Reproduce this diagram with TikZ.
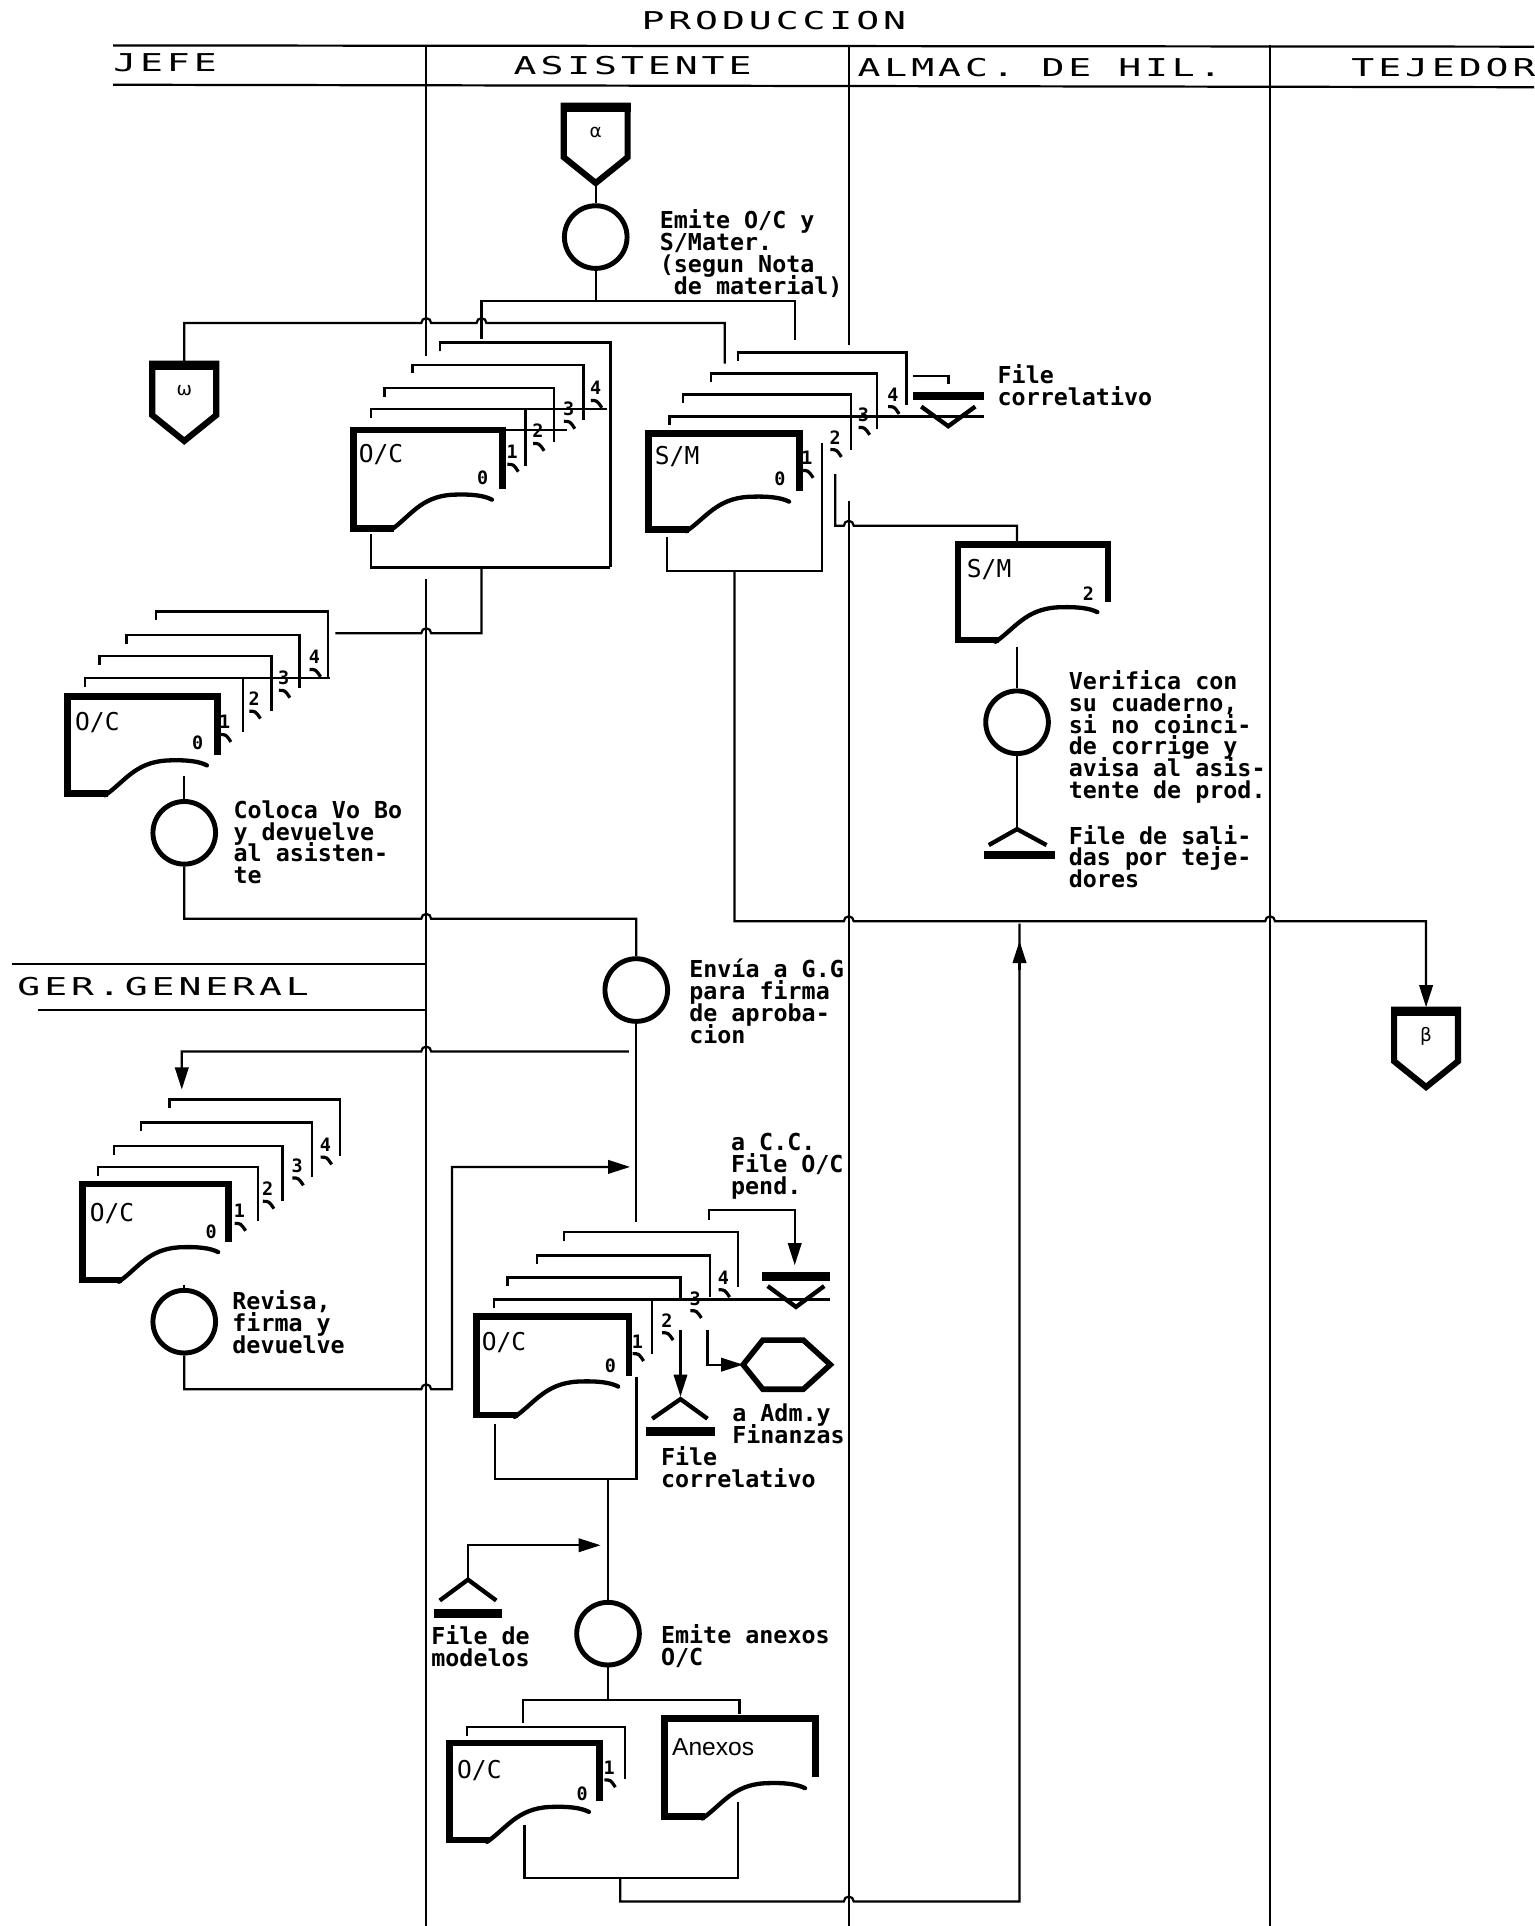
\documentclass[tikz,border=0pt]{standalone}
\usepackage{fontspec}
\usetikzlibrary{arrows.meta}
\newfontfamily\bodyf{DejaVu Sans Mono}
\newfontfamily\hdrf[FakeStretch=1.55,LetterSpace=16]{DejaVu Sans Mono}
\newfontfamily\grkf{DejaVu Sans}
\newfontfamily\anxf{Liberation Sans}
\newcommand\tightlines{\lineskiplimit=-40pt\relax\lineskip=0pt\relax}
\tikzset{
  ln/.style={line width=1.8},
  frm/.style={line width=2},
  circ/.style={circle,draw,line width=4,minimum size=51,inner sep=0},
  txt/.style={font=\bodyf\bfseries\fontsize{19}{17.8}\selectfont\tightlines,align=left,inner sep=0,anchor=north west},
  dlab/.style={font=\bodyf\fontsize{20}{20}\selectfont,inner sep=0,anchor=west},
  dig/.style={font=\bodyf\bfseries\fontsize{15}{15}\selectfont,inner sep=0},
  hdr/.style={font=\hdrf\fontsize{20}{20}\selectfont,inner sep=0},
  arr/.style={-{Triangle[width=11,length=18]}},
}
\newcommand\docsym[4]{%
  \draw[line width=5.5,line join=miter] ({#1+#3},{#2+0.6*#4}) -- ({#1+#3},#2) -- (#1,#2) -- (#1,{#2+#4}) -- ({#1+0.27*#3},{#2+#4});
  \draw[line width=3.5,line cap=round] ({#1+0.25*#3},{#2+#4+1.5}) .. controls ({#1+0.38*#3},{#2+0.88*#4}) and ({#1+0.45*#3},{#2+0.68*#4}) .. ({#1+0.66*#3},{#2+0.66*#4}) .. controls ({#1+0.8*#3},{#2+0.65*#4}) and ({#1+0.88*#3},{#2+0.67*#4}) .. ({#1+0.93*#3},{#2+0.71*#4});
}
\newcommand\cframe[4]{\draw[frm] (#1,{#2+7}) -- (#1,#2) -- (#3,#2) -- (#3,#4);}
\newcommand\clabel[3]{\node[dig] at (#1,#2) {#3};
  \draw[line width=2.6] ({#1-4},{#2+10}) .. controls ({#1+1},{#2+10}) .. ({#1+5},{#2+16});}
\newcommand\pent[3]{%
  \draw[line width=5,line join=miter,fill=white] ({#1-26},#2) -- ({#1+26},#2) -- ({#1+26},{#2+42}) -- (#1,{#2+63}) -- ({#1-26},{#2+42}) -- cycle;
  \fill ({#1-28.5},{#2-2.5}) rectangle ({#1+28.5},{#2+5});
  \node[font=\grkf\fontsize{15}{15}\selectfont,inner sep=0] at (#1,{#2+22}) {#3};}
\begin{document}
\begin{tikzpicture}[x=1pt,y=-1pt]
\useasboundingbox (0,0) rectangle (1249,1568);
\clip (0,0) rectangle (1249,1568);
\fill[white] (0,0) rectangle (1249,1568);

% ---------- header ----------
\node[hdr] (hP) at (630,17) {PRODUCCION};
\draw[ln] (92,37) -- (1249,38);
\draw[ln] (92,69) -- (1249,71);
\node[hdr,anchor=west] (hJ) at (92,51) {JEFE};
\node[hdr] (hA) at (515,53) {ASISTENTE};
\node[hdr,anchor=west] (hH) at (698,55) {ALMAC. DE HIL.};
\node[hdr,anchor=west] (hT) at (1100,55) {TEJEDOR};

% lane lines
\draw[ln] (347,37) -- (347,290); \draw[ln] (347,471) -- (347,1568);
\draw[ln] (691,37) -- (691,281); \draw[ln] (691,408) -- (691,1568);
\draw[ln] (1034,37) -- (1034,1568);

% GER. GENERAL lane
\draw[ln] (10,785) -- (347,785);
\draw[ln] (31,822) -- (347,822);
\node[hdr,anchor=west] (hG) at (14,803) {GER.GENERAL};

% ---------- start ----------
\pent{485}{86}{α}
\coordinate (aP) at (485,149);
\node[circ] (c1) at (485,193) {};
\draw[ln] (aP) -- (c1.north);
\node[txt] (t1) at (537,170.5) {Emite O/C y\\S/Mater.\\(segun Nota\\\phantom{(}de material)};
\draw[ln] (c1.south) -- (485,245);
\draw[ln] (392,276) -- (392,245) -- (647,245) -- (647,277);
\draw[ln] (150,296) -- (150,263) -- (343,263) arc[start angle=180,end angle=360,radius=4] -- (388,263) arc[start angle=180,end angle=360,radius=4] -- (590,263) -- (590,296);
\pent{150}{296}{ω}

% ---------- stack A (O/C) ----------
\docsym{288}{350}{121}{80}
\node[dlab] at (292,370) {O/C};
\node[dig] at (393,389) {0};
\cframe{302}{333}{428}{379} \draw[frm] (428,333) -- (494,333);
\cframe{313}{316}{451}{360}
\cframe{336}{297}{475}{342}
\cframe{358}{279}{497}{462}
\draw[frm] (497,462) -- (302,462) -- (302,435);
\draw[frm] (409,350) -- (462,350);
\clabel{417}{368}{1}\clabel{438}{351}{2}\clabel{463}{333}{3}\clabel{485}{316}{4}
\draw[ln] (392,462) -- (392,515.5) -- (351,515.5) arc[start angle=0,end angle=-180,radius=4] -- (273,515.5);

% ---------- stack S (S/M) ----------
\docsym{528}{353}{123}{78}
\node[dlab] at (533,372) {S/M};
\node[dig] at (635,390) {0};
\draw[frm] (545,346) -- (545,339) -- (801,339);
\draw[frm] (669,361) -- (669,465) -- (543,465) -- (543,437);
\cframe{556}{321}{693}{366}
\cframe{579}{304}{714}{349}
\cframe{601}{287}{738}{330}
\clabel{657}{373}{1}\clabel{680}{356}{2}\clabel{703}{338}{3}\clabel{727}{321}{4}
\draw[frm] (743,306) -- (772,306) -- (772,313);
\fill (743,319.5) rectangle (801,325.5);
\draw[line width=3.5] (750,331) -- (772,347) -- (794,331);
\node[txt] at (812,296.5) {File\\correlativo};
\draw[ln] (680,386) -- (680,428) -- (687,428) arc[start angle=180,end angle=360,radius=4] -- (828,428) -- (828,443);

% S/M copy 2 in almacen
\docsym{780}{443}{122}{78}
\node[dlab] at (787,464) {S/M};
\node[dig] at (886,483) {2};
\coordinate (sm2b) at (828,527);
\node[circ] (c5) at (828,588) {};
\draw[ln] (sm2b) -- (c5.north);
\node[txt] at (870,545.5) {Verifica con\\su cuaderno,\\si no coinci-\\de corrige y\\avisa al asis-\\tente de prod.};
\coordinate (tA) at (828,675);
\draw[ln] (c5.south) -- (tA);
\draw[line width=3.5] (805,688) -- (tA) -- (852,688);
\fill (801,693) rectangle (859,699);
\node[txt] at (870,671.5) {File de sali-\\das por teje-\\dores};

% main line to beta
\draw[ln,arr] (598,465) -- (598,750) -- (687,750) arc[start angle=180,end angle=360,radius=4] -- (1030,750) arc[start angle=180,end angle=360,radius=4] -- (1161,750) -- (1161,820);
\pent{1161}{822}{β}

% ---------- stack J (jefe) ----------
\docsym{55}{567}{122}{79}
\node[dlab] at (61,588) {O/C};
\node[dig] at (161,605) {0};
\cframe{69}{552}{198}{596} \draw[frm] (198,552) -- (269,552);
\cframe{81}{534}{221}{579}
\cframe{103}{517}{244}{560}
\cframe{127}{498}{267}{552}
\clabel{183}{588}{1}\clabel{207}{569}{2}\clabel{231}{552}{3}\clabel{256}{535}{4}
\coordinate (jb) at (150,632);
\node[circ] (c2) at (150,678) {};
\draw[ln] (jb) -- (c2.north);
\node[txt] at (190,651.5) {Coloca Vo Bo\\y devuelve\\al asisten-\\te};
\node[circ] (c3) at (518,806) {};
\draw[ln] (c2.south) -- (150,748) -- (343,748) arc[start angle=180,end angle=360,radius=4] -- (518,748) -- (c3.north);
\node[txt] at (561,780.5) {Envía a G.G\\para firma\\de aproba-\\cion};
\draw[ln] (c3.south) -- (518,995);
\draw[ln,arr] (512,856) -- (351,856) arc[start angle=0,end angle=-180,radius=4] -- (148,856) -- (148,887);

% ---------- stack G (gerente) ----------
\docsym{67}{964}{119}{78}
\node[dlab] at (73,988) {O/C};
\node[dig] at (172,1003) {0};
\cframe{80}{950}{210}{994}
\cframe{93}{933}{230}{978}
\cframe{115}{914}{254}{958}
\cframe{138}{895}{277}{941}
\clabel{195}{986}{1}\clabel{218}{968}{2}\clabel{242}{949}{3}\clabel{265}{932}{4}
\coordinate (gb) at (150,1046);
\node[circ] (c4) at (150,1076) {};
\draw[ln] (gb) -- (c4.north);
\node[txt] at (189,1050.5) {Revisa,\\firma y\\devuelve};
\draw[ln,arr] (c4.south) -- (150,1131) -- (343,1131) arc[start angle=180,end angle=360,radius=4] -- (368,1131) -- (368,950) -- (513,950);

% ---------- stack L (lower O/C) ----------
\docsym{388}{1072}{124}{80}
\node[dlab] at (392,1093) {O/C};
\node[dig] at (497,1112) {0};
\cframe{402}{1058}{531}{1102} \draw[frm] (531,1058) -- (676,1058);
\cframe{413}{1040}{554}{1057}
\cframe{437}{1022}{578}{1056}
\cframe{459}{1003}{601}{1048}
\clabel{519}{1092}{1}\clabel{543}{1075}{2}\clabel{566}{1057}{3}\clabel{589}{1040}{4}
\draw[frm] (403,1159) -- (403,1204) -- (518,1204) -- (518,1121);
\coordinate (tB) at (554,1139);
\draw[ln,arr] (554,1083) -- (554,1137);
\draw[line width=3.5] (531,1155) -- (tB) -- (576,1155);
\fill (526,1162) rectangle (582,1169);
\node[txt] at (538,1177.5) {File\\correlativo};
\coordinate (hexL) at (605,1111);
\draw[ln,arr] (576,1083) -- (576,1111) -- (hexL);
\draw[line width=4.5,line join=miter] (hexL) -- (621,1091) -- (654,1091) -- (676,1111) -- (654,1131) -- (621,1131) -- cycle;
\node[txt] at (596,1142.5) {a Adm.y\\Finanzas};
\draw[ln,arr] (577,993) -- (577,985) -- (647,985) -- (647,1030);
\fill (620,1035.5) rectangle (676,1042.5);
\draw[line width=3.5] (625,1047) -- (648,1064) -- (671,1047);
\node[txt] at (595,922.5) {a C.C.\\File O/C\\pend.};

% ---------- anexos ----------
\node[circ] (c6) at (495,1330) {};
\draw[ln] (495,1204) -- (c6.north);
\coordinate (tM) at (381,1286);
\draw[ln,arr] (tM) -- (381,1258) -- (489,1258);
\draw[line width=3.5] (358,1303) -- (tM) -- (404,1303);
\fill (353,1310) rectangle (409,1317);
\node[txt] at (351,1323.5) {File de\\modelos};
\node[txt] at (538,1322.5) {Emite anexos\\O/C};
\draw[ln] (c6.south) -- (495,1384);
\draw[ln] (426,1403) -- (426,1384) -- (602,1384) -- (602,1395);
\docsym{366}{1419}{122}{79}
\node[dlab] at (372,1441) {O/C};
\node[dig] at (474,1460) {0};
\cframe{380}{1406}{509}{1448}
\clabel{496}{1439}{1}
\docsym{541}{1399}{123}{80}
\node[font=\anxf\fontsize{20}{20}\selectfont,inner sep=0,anchor=west] at (547,1422) {Anexos};
\draw[frm] (427,1486) -- (427,1529) -- (601,1529) -- (601,1467);
\draw[ln] (505,1529) -- (505,1548) -- (687,1548) arc[start angle=180,end angle=360,radius=4] -- (830,1548) -- (830,752);
\draw[ln,arr] (830,790) -- (830,766);
\end{tikzpicture}
\end{document}
